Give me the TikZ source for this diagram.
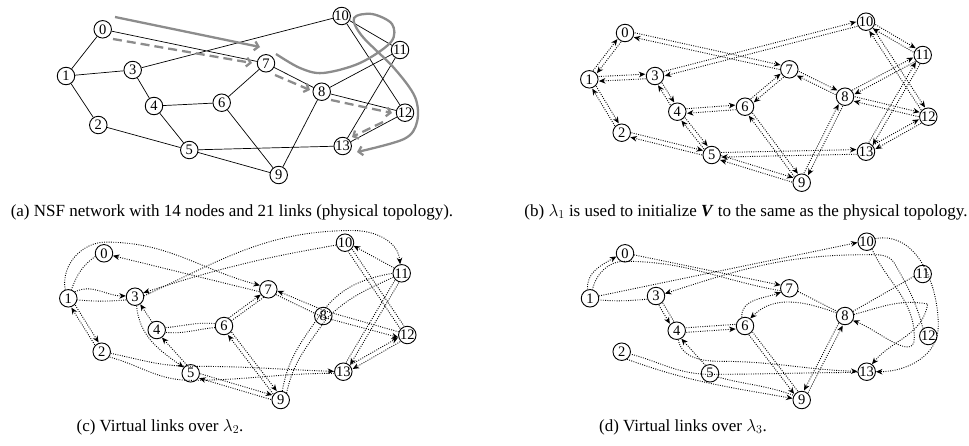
\documentclass[tikz,border=0pt]{standalone}
\usepackage{fontspec}
\setmainfont{Liberation Serif}
\usetikzlibrary{calc,arrows.meta}

\begin{document}
\begin{tikzpicture}[x=1pt,y=1pt,
				vertex/.style={circle, draw=black, line width=0.9pt, minimum size=17.5pt, inner sep=0pt, font=\fontsize{14.5}{14.5}\selectfont},
				phys/.style={draw=black, line width=0.7pt},
				virt/.style={draw=black, dash pattern=on 0.9pt off 1.4pt, line width=0.9pt},
				tip/.style={-{Stealth[length=6.5pt,width=5.5pt,inset=2pt]}},
				route/.style={draw=black!45, line width=2.3pt, -{Straight Barb[length=4pt,width=9pt]}},
				caption/.style={font=\fontsize{17}{17}\selectfont},
				offl/.style={to path={($(\tikztostart)!9.5pt!(\tikztotarget)!2.3pt!90:(\tikztotarget)$) -- ($(\tikztotarget)!9.5pt!(\tikztostart)!2.3pt!-90:(\tikztostart)$)}},
				offr/.style={to path={($(\tikztostart)!9.5pt!(\tikztotarget)!2.3pt!-90:(\tikztotarget)$) -- ($(\tikztotarget)!9.5pt!(\tikztostart)!2.3pt!90:(\tikztostart)$)}}
			]
			\useasboundingbox (0,0) rectangle (969,-445);
			% (a) physical topology
			\node[vertex] (a0) at (102.7,-29.3) {0};
			\node[vertex] (a1) at (66,-76) {1};
			\node[vertex] (a2) at (98.3,-125) {2};
			\node[vertex] (a3) at (132.7,-70) {3};
			\node[vertex] (a4) at (154,-106) {4};
			\node[vertex] (a5) at (189.3,-150) {5};
			\node[vertex] (a6) at (221.7,-102.7) {6};
			\node[vertex] (a7) at (266,-63.3) {7};
			\node[vertex] (a8) at (321.7,-91.7) {8};
			\node[vertex] (a9) at (278.7,-175) {9};
			\node[vertex] (a10) at (341.7,-16) {10};
			\node[vertex] (a11) at (400,-50) {11};
			\node[vertex] (a12) at (405,-112.7) {12};
			\node[vertex] (a13) at (342.7,-146) {13};
			\draw[phys] (a0) -- (a1) (a0) -- (a7) (a1) -- (a3) (a1) -- (a2) (a3) -- (a10) (a3) -- (a4) (a4) -- (a6);
			\draw[phys] (a4) -- (a5) (a2) -- (a5) (a6) -- (a7) (a6) -- (a9) (a7) -- (a8) (a8) -- (a11) (a8) -- (a12);
			\draw[phys] (a8) -- (a9) (a5) -- (a13) (a5) -- (a9) (a10) -- (a11) (a10) -- (a12) (a11) -- (a13) (a12) -- (a13);
			\coordinate (s0) at (115,-17);
			\coordinate (s1) at (260,-47);
			\draw[route] (s0) -- (s1);
			\draw[route] plot[smooth, tension=0.55] coordinates {(276,-54) (300,-68) (323,-73) (360,-63) (391,-42) (392,-24) (372,-14) (354,-18) (362,-36) (394,-68) (415,-97) (417,-122) (404,-139) (357,-152)};
			\coordinate (r0) at (113,-39);
			\coordinate (r1) at (252,-63);
			\coordinate (r2) at (275,-75);
			\coordinate (r3) at (310,-90);
			\coordinate (r4) at (331,-100);
			\coordinate (r5) at (392,-113);
			\coordinate (r6) at (383,-122);
			\coordinate (r7) at (352,-137);
			\begin{scope}[dash pattern=on 9pt off 5pt]
			\draw[route] (r0) -- (r1);
			\draw[route] (r2) -- (r3);
			\draw[route] (r4) -- (r5);
			\draw[route] (r6) -- (r7);
			\end{scope}
			\node[caption] (capa) at (232,-212) {(a) NSF network with 14 nodes and 21 links (physical topology).};
			% (b) lambda 1
			\node[vertex] (b0) at (625,-33) {0};
			\node[vertex] (b1) at (589.3,-79.3) {1};
			\node[vertex] (b2) at (621.7,-132.7) {2};
			\node[vertex] (b3) at (655,-76) {3};
			\node[vertex] (b4) at (677.3,-111.7) {4};
			\node[vertex] (b5) at (711.7,-155) {5};
			\node[vertex] (b6) at (745,-106.7) {6};
			\node[vertex] (b7) at (789.3,-69.3) {7};
			\node[vertex] (b8) at (845,-96.7) {8};
			\node[vertex] (b9) at (801.7,-182.7) {9};
			\node[vertex] (b10) at (866,-21.7) {10};
			\node[vertex] (b11) at (922.7,-55) {11};
			\node[vertex] (b12) at (928.3,-116.7) {12};
			\node[vertex] (b13) at (866,-151.7) {13};
			\draw[virt] (b0) edge[offl,tip] (b1) (b1) edge[offl,tip] (b0);
			\draw[virt] (b0) edge[offl,tip] (b7) (b7) edge[offl,tip] (b0);
			\draw[virt] (b1) edge[offl,tip] (b3) (b3) edge[offl,tip] (b1);
			\draw[virt] (b1) edge[offl,tip] (b2) (b2) edge[offl,tip] (b1);
			\draw[virt] (b3) edge[offl,tip] (b10) (b10) edge[offl,tip] (b3);
			\draw[virt] (b3) edge[offl,tip] (b4) (b4) edge[offl,tip] (b3);
			\draw[virt] (b4) edge[offl,tip] (b6) (b6) edge[offl,tip] (b4);
			\draw[virt] (b4) edge[offl,tip] (b5) (b5) edge[offl,tip] (b4);
			\draw[virt] (b2) edge[offl,tip] (b5) (b5) edge[offl,tip] (b2);
			\draw[virt] (b6) edge[offl,tip] (b7) (b7) edge[offl,tip] (b6);
			\draw[virt] (b6) edge[offl,tip] (b9) (b9) edge[offl,tip] (b6);
			\draw[virt] (b7) edge[offl,tip] (b8) (b8) edge[offl,tip] (b7);
			\draw[virt] (b8) edge[offl,tip] (b11) (b11) edge[offl,tip] (b8);
			\draw[virt] (b8) edge[offl,tip] (b12) (b12) edge[offl,tip] (b8);
			\draw[virt] (b8) edge[offl,tip] (b9) (b9) edge[offl,tip] (b8);
			\draw[virt] (b5) edge[offl,tip] (b13) (b13) edge[offl,tip] (b5);
			\draw[virt] (b5) edge[offl,tip] (b9) (b9) edge[offl,tip] (b5);
			\draw[virt] (b10) edge[offl,tip] (b11) (b11) edge[offl,tip] (b10);
			\draw[virt] (b10) edge[offl,tip] (b12) (b12) edge[offl,tip] (b10);
			\draw[virt] (b11) edge[offl,tip] (b13) (b13) edge[offl,tip] (b11);
			\draw[virt] (b12) edge[offl,tip] (b13) (b13) edge[offl,tip] (b12);
			\node[caption] (capb) at (746,-212) {(b) $\lambda_1$ is used to initialize \textbf{\textit{V}} to the same as the physical topology.};
			% (c) lambda 2
			\node[vertex] (c0) at (104,-253.3) {0};
			\node[vertex] (c1) at (68.3,-298.3) {1};
			\node[vertex] (c2) at (101.7,-351.7) {2};
			\node[vertex] (c3) at (135,-296.7) {3};
			\node[vertex] (c4) at (156.7,-330) {4};
			\node[vertex] (c5) at (190.7,-373.3) {5};
			\node[vertex] (c6) at (224,-326) {6};
			\node[vertex] (c7) at (268.3,-289.3) {7};
			\node[vertex] (c8) at (323.3,-316) {8};
			\node[vertex] (c9) at (280.7,-400) {9};
			\node[vertex] (c10) at (345,-242.7) {10};
			\node[vertex] (c11) at (401.7,-273.3) {11};
			\node[vertex] (c12) at (407.3,-335) {12};
			\node[vertex] (c13) at (343.3,-371.7) {13};
			\draw[virt,tip] (c1.110) to[out=100,in=180] ($(c0.north)+(2,2)$) to[out=0,in=165] (c7.155);
			\draw[virt,tip] (c7.195) -- (c0.-15);
			\draw[virt] (c0.200) to[out=215,in=70] (c1.70);
			\draw[virt,tip] (c1.45) to[out=25,in=180] (c3.175);
			\draw[virt] (c3.200) to[out=185,in=-5] (c1.-10);
			\draw[virt,tip] (c10.195) to[bend right=4] (c3.25);
			\draw[virt,tip] (c3.5) to[out=25,in=180] ($(c10.north)+(8,3)$) to[out=0,in=95] (c11.100);
			\draw[virt,tip] (c11.145) -- (c10.-20);
			\draw[virt] (c1) edge[offl,tip] (c2) (c2) edge[offl,tip] (c1);
			\draw[virt,tip] (c3.-80) to[out=-85,in=145] (c5.140);
			\draw[virt,tip] (c4.120) -- (c3.-55);
			\draw[virt,tip] (c5.115) -- (c4.-55);
			\draw[virt] (c4.15) to[out=5,in=175] (c6.165);
			\draw[virt,tip] (c6.60) -- (c7.215);
			\draw[virt] (c7.240) -- (c6.35);
			\draw[virt] (c6.190) to[out=185,in=-5] (c4.-15);
			\draw[virt] (c6) edge[offl,tip] (c9) (c9) edge[offl,tip] (c6);
			\draw[virt,tip] (c2.-10) to[out=-12,in=180] ($(c5)+(2,7)$) to[out=0,in=178] (c13.178);
			\draw[virt] (c13.-170) to[out=180,in=0] ($(c5)+(0,-7)$) to[out=180,in=-15] (c2.-35);
			\draw[virt] (c5) edge[offl,tip] (c9) (c9) edge[offl,tip] (c5);
			\draw[virt,tip] (c12.160) -- ($(c8)+(2,5)$) -- (c7.-10);
			\draw[virt,tip] (c7.-35) -- ($(c8)+(-1,-1)$) -- (c12.195);
			\draw[virt] (c9.80) to[out=80,in=235] ($(c8)+(-4,0)$) to[out=55,in=190] (c11.180);
			\draw[virt] (c9.50) to[out=78,in=235] ($(c8)+(3,-3)$) to[out=45,in=205] (c11.205);
			\draw[virt] (c11) edge[offl,tip] (c13) (c13) edge[offl] (c11);
			\draw[virt] (c10) edge[offl] (c12) (c12) edge[offl] (c10);
			\draw[virt] (c12) edge[offl,tip] (c13) (c13) edge[offl,tip] (c12);
			\node[caption] (capc) at (160,-427) {(c) Virtual links over $\lambda_2$.};
			% (d) lambda 3
			\node[vertex] (d0) at (625,-253.3) {0};
			\node[vertex] (d1) at (590,-298.3) {1};
			\node[vertex] (d2) at (621.7,-351.7) {2};
			\node[vertex] (d3) at (656,-296) {3};
			\node[vertex] (d4) at (676.7,-330.7) {4};
			\node[vertex] (d5) at (710,-373.3) {5};
			\node[vertex] (d6) at (745,-326) {6};
			\node[vertex] (d7) at (789.3,-288.3) {7};
			\node[vertex] (d8) at (845,-316) {8};
			\node[vertex] (d9) at (801.7,-400) {9};
			\node[vertex] (d10) at (866.7,-241.7) {10};
			\node[vertex] (d11) at (922.7,-274) {11};
			\node[vertex] (d12) at (928.3,-336) {12};
			\node[vertex] (d13) at (866.7,-371.7) {13};
			\draw[virt,tip] (d1.105) to[out=95,in=210] (d0.200);
			\draw[virt] (d7.195) to[out=170,in=0] ($(d0)+(0,-8)$) to[out=180,in=75] (d1.75);
			\draw[virt,tip] (d0.-10) -- (d7.160);
			\draw[virt,tip] (d1.15) -- (d10.185);
			\draw[virt] (d3.200) to[out=185,in=-5] (d1.-10);
			\draw[virt,tip] (d12.125) to[out=105,in=-60] ($(d10)+(28,-22)$) to[out=120,in=0] ($(d10)+(0,-13)$) to[out=180,in=18] (d3.15);
			\draw[virt] (d3) edge[offr,tip] (d4) (d4) edge[offr] (d3);
			\draw[virt] (d4) edge[offr,tip] (d6) (d6) edge[offr] (d4);
			\draw[virt,tip] (d6.110) to[out=95,in=200] (d7.205);
			\draw[virt,tip] (d8.160) to[out=160,in=45] (d6.55);
			\draw[virt] (d7.-20) -- (d8.150);
			\draw[virt,tip] (d5.120) -- (d4.-60);
			\draw[virt,tip] (d4.-80) to[out=-80,in=180] ($(d5)+(10,12)$) to[out=0,in=178] (d13.178);
			\draw[virt] (d13.185) to[out=180,in=0] ($(d5)+(0,-1)$) to[out=180,in=-15] (d2.-15);
			\draw[virt,tip] (d2.-55) to[out=-20,in=170] (d9.170);
			\draw[virt] (d5.-25) to[out=-15,in=160] (d9.150);
			\draw[virt] (d6) edge[offr,tip] (d9) (d9) edge[offr] (d6);
			\draw[virt] (d8) edge[offr,tip] (d9) (d9) edge[offr,tip] (d8);
			\draw[virt] (d8.30) -- (d11.195);
			\draw[virt,tip] (d8.10) to[out=15,in=170] ($(d11)+(5,-30)$) to[out=-100,in=50] (d13.55);
			\draw[virt,tip] (d10.20) to[out=10,in=90] ($(d12)+(10,10)$) to[out=-90,in=0] (d13.0);
			\draw[virt,tip] (d10.-55) to[out=-65,in=90] ($(d12)+(-14,-2)$) to[out=-90,in=-20] (d8.-30);
			\node[caption] (capd) at (683,-427) {(d) Virtual links over $\lambda_3$.};
			\end{tikzpicture}
\end{document}
